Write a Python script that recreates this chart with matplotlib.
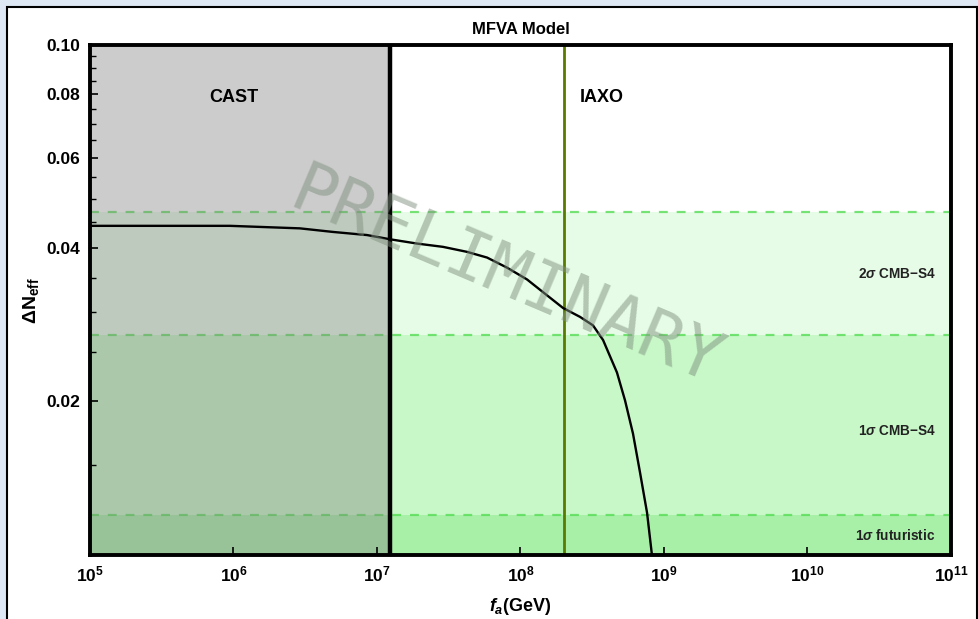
import numpy as np
import matplotlib
matplotlib.use("Agg")
import matplotlib.pyplot as plt
from matplotlib.patches import Rectangle
from matplotlib.ticker import FixedLocator, NullFormatter

plt.rcParams['font.family'] = ['Liberation Sans', 'DejaVu Sans']
plt.rcParams['mathtext.fontset'] = 'custom'
plt.rcParams['mathtext.rm'] = 'Liberation Sans:bold'
plt.rcParams['mathtext.bf'] = 'Liberation Sans:bold'
plt.rcParams['mathtext.it'] = 'Liberation Sans:italic:bold'

# curva Delta N_eff vs f_a
fa = [1e5, 9.46e5, 2.90e6, 4.93e6, 8.51e6, 1.23e7, 1.90e7, 2.88e7, 4.24e7,
      5.85e7, 8.05e7, 1.11e8, 1.53e8, 1.98e8, 2.60e8, 3.20e8, 3.76e8,
      4.70e8, 5.35e8, 6.08e8, 6.81e8, 7.62e8, 8.24e8]
dneff = [0.0442, 0.0442, 0.0437, 0.0430, 0.0424, 0.0416, 0.0408, 0.0402,
         0.0393, 0.0383, 0.0366, 0.0347, 0.0323, 0.0305, 0.0293, 0.0282,
         0.0264, 0.0228, 0.0201, 0.0173, 0.0145, 0.0121, 0.0100]

# limites experimentales y bandas
cast_lim = 1.23e7
iaxo_lim = 2.0e8
bandas = [0.047, 0.027, 0.012]
bandas_txt = [r"2$\sigma$ CMB$-$S4", r"1$\sigma$ CMB$-$S4", r"1$\sigma$ futuristic"]
bandas_y = [0.0355, 0.0175, 0.0109]
bandas_col = ['#e6fce6', '#c8f8c8', '#a8f0a8']

xticks = [1e5, 1e6, 1e7, 1e8, 1e9, 1e10, 1e11]
xlabels = [r"$\mathbf{10^{%d}}$" % k for k in range(5, 12)]
yticks = [0.02, 0.04, 0.06, 0.08, 0.10]
ylabels = ["0.02", "0.04", "0.06", "0.08", "0.10"]
yminor = [0.01, 0.015, 0.025, 0.03, 0.035, 0.045, 0.05, 0.055, 0.065, 0.07,
          0.075, 0.085, 0.09, 0.095]

xmin, xmax = 1e5, 1e11
ymin, ymax = 0.01, 0.1

fig = plt.figure(figsize=(9.79, 6.19), dpi=100)
fig.patch.set_facecolor('#dde8f4')
fig.add_artist(Rectangle((7/979, -0.05), 970/979, 1.05 - 7/619, transform=fig.transFigure,
                         facecolor='white', edgecolor='black', linewidth=1.5, zorder=-1))

ax = fig.add_axes([90/979, 1 - 555/619, 861/979, 510/619])
ax.set_xscale('log')
ax.set_yscale('log')
ax.set_xlim(xmin, xmax)
ax.set_ylim(ymin, ymax)
ax.set_axisbelow(False)

# bandas verdes
lim_sup = bandas
lim_inf = bandas[1:] + [ymin]
for top, bot, col in zip(lim_sup, lim_inf, bandas_col):
    ax.axhspan(bot, top, color=col, lw=0, zorder=0)
for b in bandas:
    ax.axhline(b, color='#55dd55', ls=(0, (4, 4)), lw=1.6, alpha=0.8, zorder=0.5)
for txt, yy in zip(bandas_txt, bandas_y):
    ax.text(7.8e10, yy, txt, ha='right', va='center', fontsize=9.8,
            fontweight='bold', color='#222222')

# region excluida CAST
ax.axvspan(xmin, cast_lim, color='#808080', alpha=0.4, lw=0, zorder=1)
ax.axvline(cast_lim, color='black', lw=3.2, zorder=4)
ax.axvline(iaxo_lim, color='#5a7a00', lw=2, zorder=4)
ax.text(1.0e6, 0.079, "CAST", ha='center', va='center', fontsize=13, fontweight='bold')
ax.text(2.6e8, 0.079, "IAXO", ha='left', va='center', fontsize=13, fontweight='bold')

ax.plot(fa, dneff, color='black', lw=1.7, zorder=5)

ax.text(8.0e7, 0.0350, "PRELIMINARY", family='DejaVu Sans Mono', fontsize=50,
        rotation=-23, ha='center', va='center', color='#7f907f', alpha=0.5, zorder=6)

ax.xaxis.set_major_locator(FixedLocator(xticks))
ax.set_xticklabels(xlabels)
ax.xaxis.set_minor_locator(FixedLocator([]))
ax.yaxis.set_major_locator(FixedLocator(yticks))
ax.set_yticklabels(ylabels)
ax.yaxis.set_minor_locator(FixedLocator(yminor))
ax.yaxis.set_minor_formatter(NullFormatter())
ax.tick_params(which='both', direction='in', top=False, right=False)
ax.tick_params(which='major', length=6, width=1.2, labelsize=12.5, pad=7)
ax.tick_params(which='minor', length=4, width=1)
for lab in ax.get_yticklabels():
    lab.set_fontweight('bold')

for s in ax.spines.values():
    s.set_linewidth(2.8)
    s.set_zorder(7)

ax.set_title("MFVA Model", fontsize=12, fontweight='bold', pad=8)
ax.set_ylabel(r"$\mathbf{\Delta N_{eff}}$", fontsize=14, labelpad=4)
ax.set_xlabel(r"$f_a$(GeV)", fontsize=13, fontweight='bold', labelpad=8)

fig.savefig("out.png", dpi=100, facecolor=fig.get_facecolor())
